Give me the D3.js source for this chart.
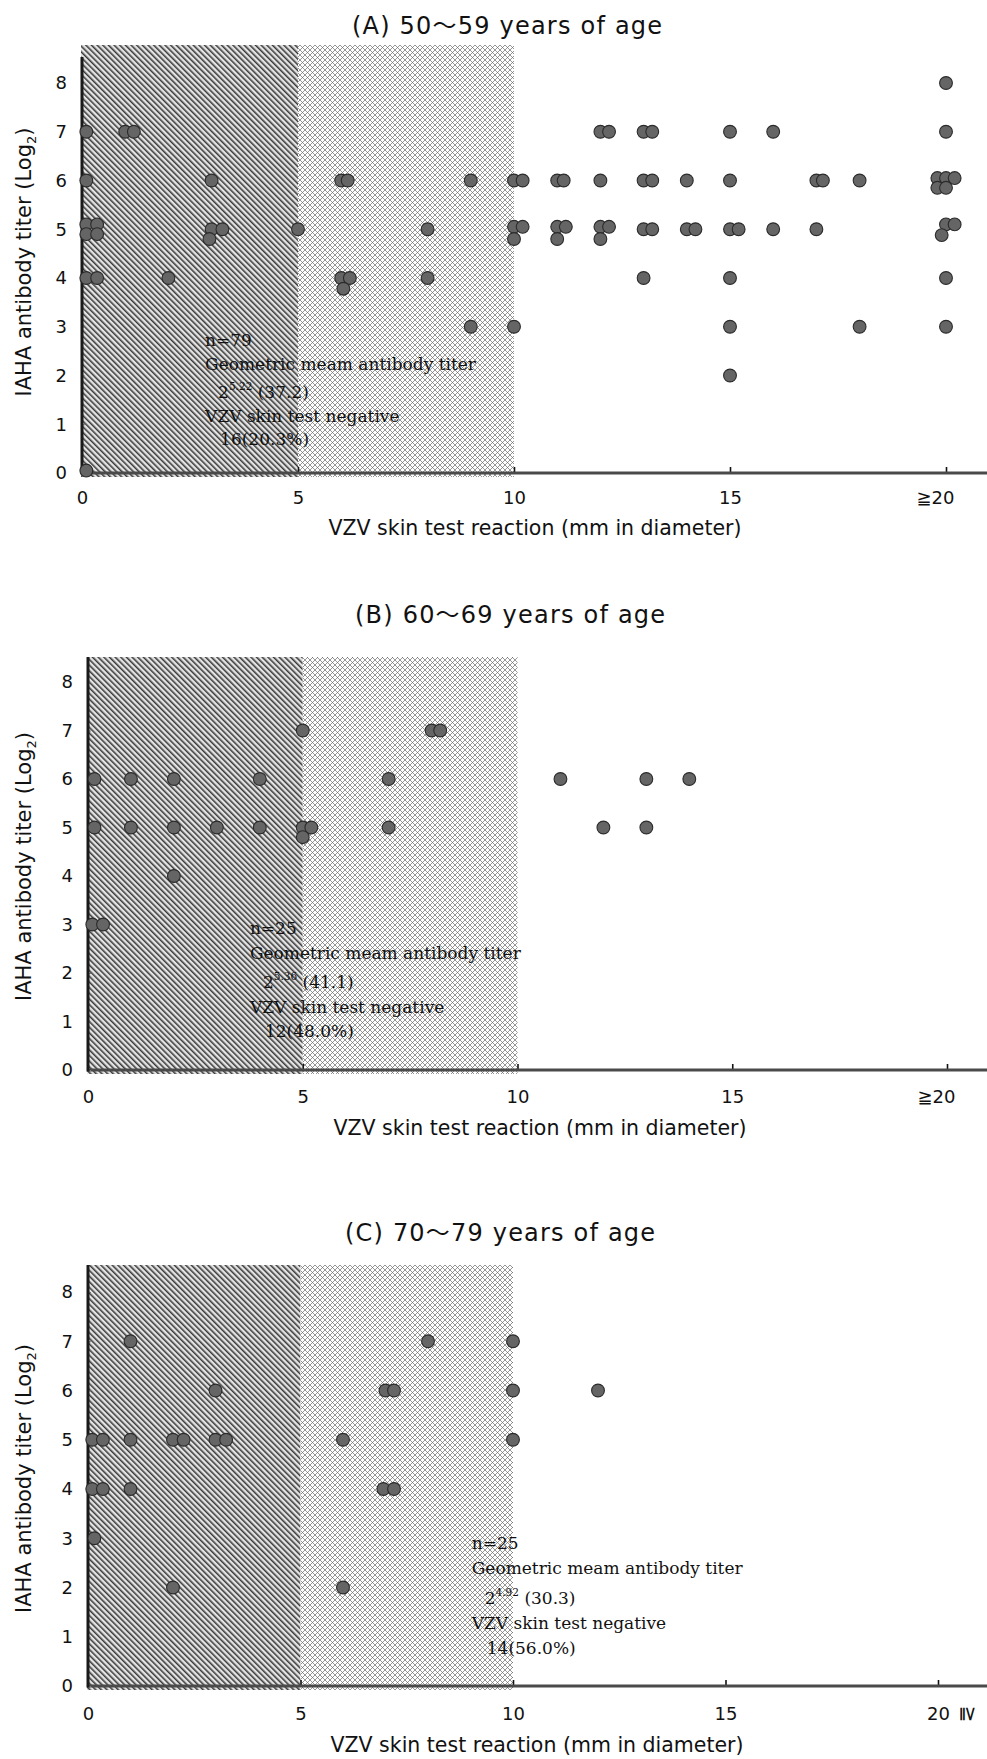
<!DOCTYPE html>
<html>
<head>
<meta charset="utf-8">
<script src="https://cdn.jsdelivr.net/npm/d3@7/dist/d3.min.js"></script>
<style>
  html, body { margin: 0; padding: 0; background: #fff; }
  svg { display: block; }
</style>
</head>
<body>
<svg id="chart" width="987" height="1759"></svg>
<script>
// ---- Data -----------------------------------------------------------------
const panelTitles = ["(A) 50～59 years of age", "(B) 60～69 years of age", "(C) 70～79 years of age"];
const xAxisTitle = "VZV skin test reaction (mm in diameter)";
const yTickValues = [0, 1, 2, 3, 4, 5, 6, 7, 8];
const xTickValues = [0, 5, 10, 15, 20];
const xTickLabels = ["0", "5", "10", "15", "≧20"];
const negativeBand = [0, 5];    // skin test negative (< 5 mm)
const borderlineBand = [5, 10]; // 5–10 mm

// [skin test reaction (mm), IAHA titer (log2)]; near-identical values are
// nudged apart slightly so that each subject stays visible.
const pointsA = [
  [20, 8],
  [0.1, 7], [1.0, 7], [1.2, 7], [12.0, 7], [12.2, 7], [13.0, 7], [13.2, 7], [15, 7], [16, 7], [20, 7],
  [0.1, 6], [3, 6], [6.0, 6], [6.15, 6], [9, 6], [10.0, 6], [10.2, 6], [11.0, 6], [11.15, 6], [12, 6],
  [13.0, 6], [13.2, 6], [14, 6], [15, 6], [17.0, 6], [17.15, 6], [18, 6],
  [19.8, 6.05], [20.0, 6.05], [20.2, 6.05], [19.8, 5.85], [20.0, 5.85],
  [0.1, 5.1], [0.35, 5.1], [0.1, 4.9], [0.35, 4.9], [3.0, 5], [3.25, 5], [2.95, 4.8], [5, 5], [8, 5],
  [10.0, 5.05], [10.2, 5.05], [10.0, 4.8], [11.0, 5.05], [11.2, 5.05], [11.0, 4.8],
  [12.0, 5.05], [12.2, 5.05], [12.0, 4.8], [13.0, 5], [13.2, 5], [14.0, 5], [14.2, 5],
  [15.0, 5], [15.2, 5], [16, 5], [17, 5], [20.0, 5.1], [20.2, 5.1], [19.9, 4.88],
  [0.1, 4], [0.35, 4], [2, 4], [6.0, 4], [6.2, 4], [6.05, 3.78], [8, 4], [13, 4], [15, 4], [20, 4],
  [9, 3], [10, 3], [15, 3], [18, 3], [20, 3],
  [15, 2],
  [0.1, 0.05]
];
const pointsB = [
  [5, 7], [8.0, 7], [8.2, 7],
  [0.15, 6], [1, 6], [2, 6], [4, 6], [7, 6], [11, 6], [13, 6], [14, 6],
  [0.15, 5], [1, 5], [2, 5], [3, 5], [4, 5], [5.0, 5], [5.2, 5], [5.0, 4.8], [7, 5], [12, 5], [13, 5],
  [2, 4],
  [0.1, 3], [0.35, 3]
];
const pointsC = [
  [1, 7], [8, 7], [10, 7],
  [3, 6], [7.0, 6], [7.2, 6], [10, 6], [12, 6],
  [0.1, 5], [0.35, 5], [1, 5], [2.0, 5], [2.25, 5], [3.0, 5], [3.25, 5], [6, 5], [10, 5],
  [0.1, 4], [0.35, 4], [1, 4], [6.95, 4], [7.2, 4],
  [0.15, 3],
  [2, 2], [6, 2]
];

const sampleSizes = [79, 25, 25];
const gmtExponents = ["5.22", "5.36", "4.92"];
const gmtTiters = ["37.2", "41.1", "30.3"];
const negativeCounts = ["16(20.3%)", "12(48.0%)", "14(56.0%)"];

// ---- Layout ---------------------------------------------------------------
const panels = [
  { points: pointsA, left: 82, right: 946, y0: 473, y8: 83, shadeTop: 45, axisTop: 57,
    titleX: 507, titleY: 34, tickPad: 18, xTitleX: 535, xTitleY: 535,
    note: [2.85, 2.6], noteGap: 23.5, rotatedGe: false },
  { points: pointsB, left: 88, right: 947, y0: 1070, y8: 682, shadeTop: 657, axisTop: 657,
    titleX: 510, titleY: 623, tickPad: 20, xTitleX: 540, xTitleY: 1135,
    note: [3.77, 2.8], noteGap: 24.5, rotatedGe: false },
  { points: pointsC, left: 88, right: 938, y0: 1686, y8: 1292, shadeTop: 1265, axisTop: 1265,
    titleX: 500, titleY: 1241, tickPad: 21, xTitleX: 537, xTitleY: 1752,
    note: [9.03, 2.78], noteGap: 25, rotatedGe: true }
];

const svg = d3.select("#chart");
const defs = svg.append("defs");

// dense diagonal hatching for the negative band
const hatch = defs.append("pattern")
  .attr("id", "hatchDark").attr("patternUnits", "userSpaceOnUse")
  .attr("width", 4).attr("height", 4).attr("patternTransform", "rotate(-45)");
hatch.append("rect").attr("width", 4).attr("height", 4).attr("fill", "#e4e4e4");
hatch.append("rect").attr("width", 1.55).attr("height", 4).attr("fill", "#3a3a3a");

// fine cross-hatching for the 5–10 mm band
const cross = defs.append("pattern")
  .attr("id", "hatchLight").attr("patternUnits", "userSpaceOnUse")
  .attr("width", 5).attr("height", 5);
cross.append("rect").attr("width", 5).attr("height", 5).attr("fill", "#fff");
cross.append("path").attr("d", "M0,0L5,5M5,0L0,5")
  .attr("stroke", "#6a6a6a").attr("stroke-width", 0.7).attr("fill", "none");

const sans = "'DejaVu Sans', 'Noto Sans CJK JP', sans-serif";
const serif = "'DejaVu Serif', 'Liberation Serif', serif";

panels.forEach((p, i) => {
  const g = svg.append("g");
  const xs = d3.scaleLinear().domain([0, 20]).range([p.left, p.right]);
  const ys = d3.scaleLinear().domain([0, 8]).range([p.y0, p.y8]);

  // shaded bands
  g.append("rect")
    .attr("x", xs(negativeBand[0]) - 1).attr("y", p.shadeTop)
    .attr("width", xs(negativeBand[1]) - xs(negativeBand[0]) + 1)
    .attr("height", p.y0 + 4 - p.shadeTop)
    .attr("fill", "url(#hatchDark)");
  g.append("rect")
    .attr("x", xs(borderlineBand[0])).attr("y", p.shadeTop)
    .attr("width", xs(borderlineBand[1]) - xs(borderlineBand[0]))
    .attr("height", p.y0 + 4 - p.shadeTop)
    .attr("fill", "url(#hatchLight)");

  // panel title
  g.append("text")
    .attr("x", p.titleX).attr("y", p.titleY)
    .attr("text-anchor", "middle")
    .attr("font-family", sans).attr("font-size", 24)
    .attr("textLength", 310).attr("lengthAdjust", "spacing")
    .attr("fill", "#111")
    .text(panelTitles[i]);

  // x axis
  const xAxis = d3.axisBottom(xs)
    .tickValues(xTickValues)
    .tickFormat((d, k) => xTickLabels[k])
    .tickSizeInner(-6).tickSizeOuter(0).tickPadding(p.tickPad);
  const xg = g.append("g").attr("transform", `translate(0,${p.y0})`).call(xAxis);
  xg.select(".domain").remove();
  xg.selectAll(".tick line").attr("stroke", "#111").attr("stroke-width", 1.6);
  xg.selectAll(".tick").filter(d => d === 0).select("line").remove();
  xg.selectAll(".tick text")
    .attr("font-family", sans).attr("font-size", 18).attr("fill", "#111");
  if (p.rotatedGe) {
    // "20" under the tick with the ≧ sign turned on its side
    const last = xg.selectAll(".tick").filter(d => d === 20);
    last.select("text").text("20");
    last.append("text")
      .attr("font-family", sans).attr("font-size", 20).attr("fill", "#111")
      .attr("text-anchor", "middle")
      .attr("transform", `translate(30,${p.tickPad + 7}) rotate(90)`)
      .attr("dy", "0.35em")
      .text("≧");
  } else {
    xg.selectAll(".tick").filter(d => d === 20).select("text").attr("dx", -11);
  }
  g.append("line")
    .attr("x1", xs(0)).attr("x2", 987)
    .attr("y1", p.y0).attr("y2", p.y0)
    .attr("stroke", "#4a4a4a").attr("stroke-width", 3);

  // y axis
  const yAxis = d3.axisLeft(ys).tickValues(yTickValues).tickSize(3).tickPadding(12);
  const yg = g.append("g").attr("transform", `translate(${p.left},0)`).call(yAxis);
  yg.select(".domain").remove();
  yg.selectAll(".tick line").attr("stroke", "#777").attr("stroke-width", 1).attr("x2", 3);
  yg.selectAll(".tick text")
    .attr("font-family", sans).attr("font-size", 18).attr("fill", "#111");
  g.append("line")
    .attr("x1", p.left).attr("x2", p.left)
    .attr("y1", p.axisTop).attr("y2", p.y0 + 1.5)
    .attr("stroke", "#1a1a1a").attr("stroke-width", 3);

  // axis titles
  g.append("text")
    .attr("x", p.xTitleX).attr("y", p.xTitleY)
    .attr("text-anchor", "middle")
    .attr("font-family", sans).attr("font-size", 20.5).attr("fill", "#111")
    .text(xAxisTitle);
  const yMid = (p.shadeTop + p.y0) / 2 + 3;
  const yt = g.append("text")
    .attr("transform", `translate(31,${yMid}) rotate(-90)`)
    .attr("text-anchor", "middle")
    .attr("font-family", sans).attr("font-size", 21).attr("fill", "#111");
  yt.append("tspan").text("IAHA antibody titer (Log");
  yt.append("tspan").attr("font-size", 13).attr("dy", 5).text("2");
  yt.append("tspan").attr("dy", -5).text(")");

  // subjects
  g.append("g").selectAll("circle")
    .data(p.points)
    .join("circle")
    .attr("cx", d => xs(d[0]))
    .attr("cy", d => ys(d[1]))
    .attr("r", 6.4)
    .attr("fill", "#656565")
    .attr("stroke", "#2b2b2b")
    .attr("stroke-width", 1.1);

  // summary note
  const nx = xs(p.note[0]);
  const ny = ys(p.note[1]);
  const note = g.append("g")
    .attr("font-family", serif).attr("font-size", 17).attr("fill", "#111");
  note.append("text").attr("x", nx).attr("y", ny).text(`n=${sampleSizes[i]}`);
  note.append("text").attr("x", nx).attr("y", ny + p.noteGap).text("Geometric meam antibody titer");
  const gm = note.append("text").attr("x", nx + 13).attr("y", ny + p.noteGap * 2 + 5);
  gm.append("tspan").text("2");
  gm.append("tspan").attr("font-size", 10.5).attr("dy", -8).text(gmtExponents[i]);
  gm.append("tspan").attr("dy", 8).text(` (${gmtTiters[i]})`);
  note.append("text").attr("x", nx).attr("y", ny + p.noteGap * 3 + 5).text("VZV skin test negative");
  note.append("text").attr("x", nx + 15).attr("y", ny + p.noteGap * 4 + 5).text(negativeCounts[i]);
});
</script>
</body>
</html>
